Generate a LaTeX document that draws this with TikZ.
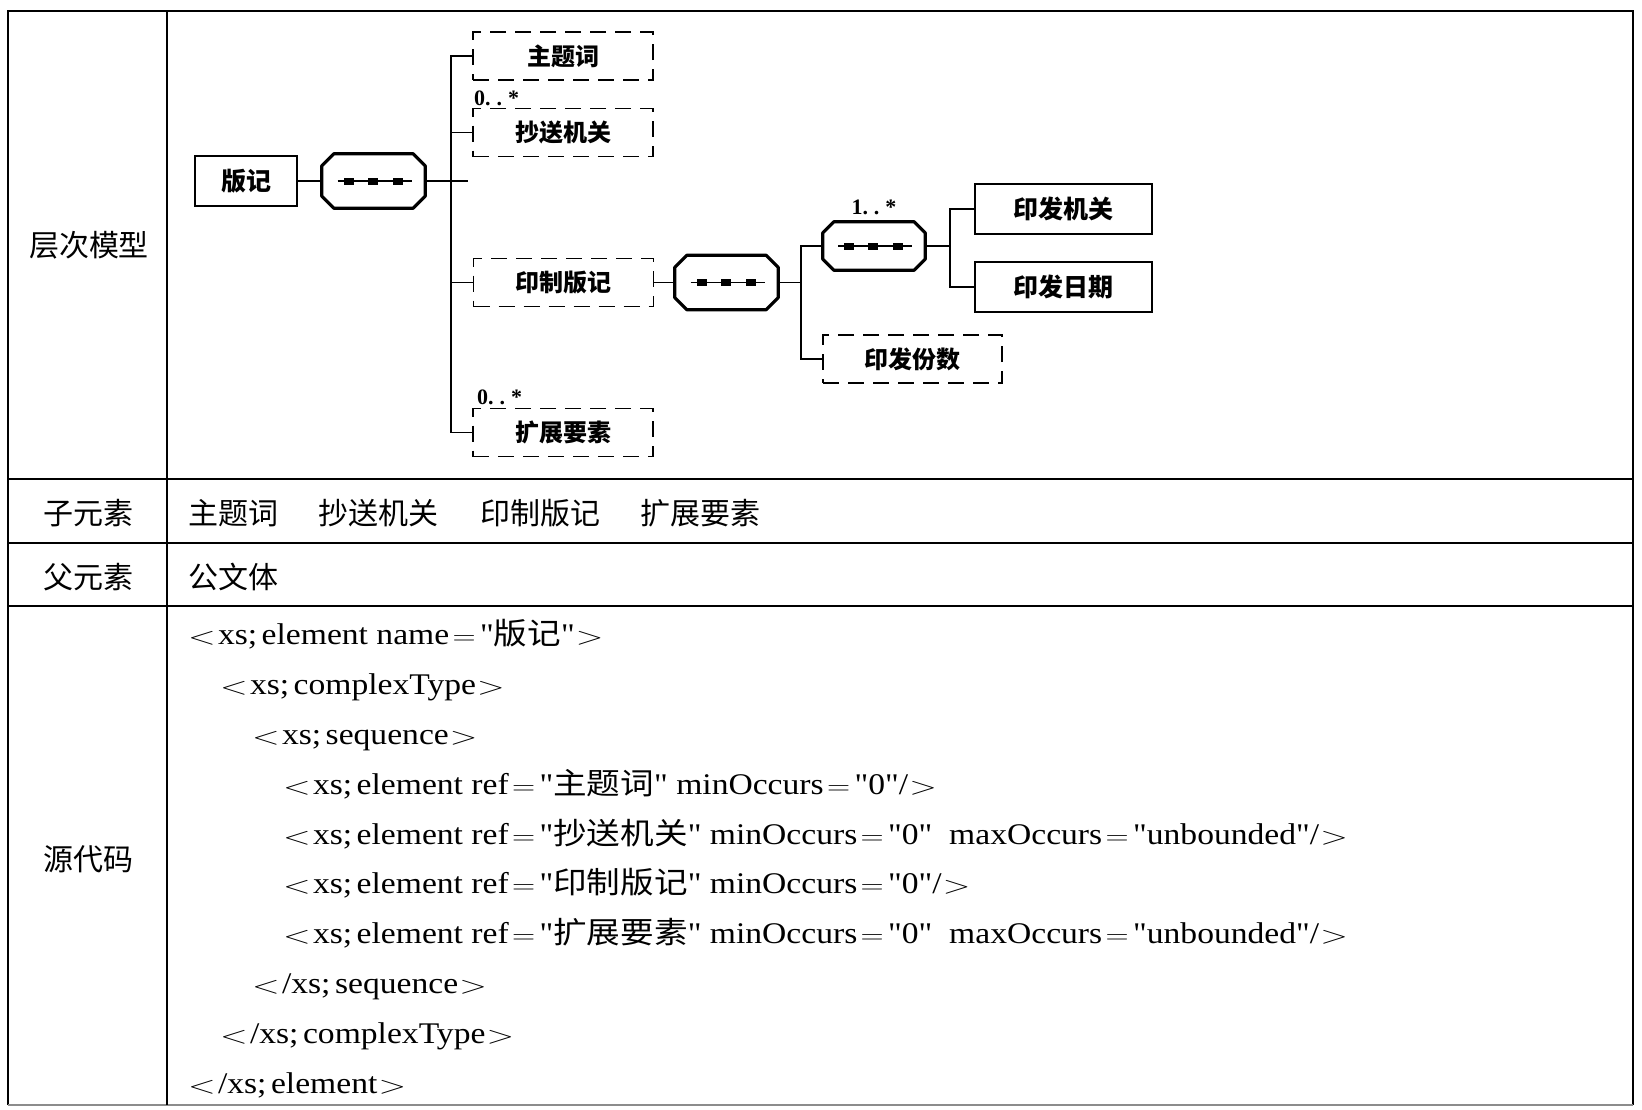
\documentclass[tikz,border=0pt]{standalone}
\usepackage{fontspec}
\usepackage{graphicx}
\setmainfont{Liberation Serif}
\newfontfamily\codefont{Liberation Serif}
\newfontfamily\cjk{Noto Sans CJK SC}
\newcommand\tl{\scalebox{1.3}[1]{$<$}\kern2pt}
\newcommand\tr{\kern1pt\scalebox{1.3}[1]{$>$}}
\newcommand\eqs{\kern3pt\scalebox{1.15}[1]{$=$}\kern4pt}
\newcommand\qq{\char34\relax}
\newcommand\xs{xs;\kern4pt}
\newcommand\cl[1]{\scalebox{1.12}[1]{#1}}
\newcommand\octo[2]{\draw[octline] ([xshift=#2]#1.north west) -- ([xshift=-#2]#1.north east) -- ([yshift=-#2]#1.north east) -- ([yshift=#2]#1.south east) -- ([xshift=-#2]#1.south east) -- ([xshift=#2]#1.south west) -- ([yshift=#2]#1.south west) -- ([yshift=-#2]#1.north west) -- cycle;
  \draw[line width=1.3pt] ([xshift=-36pt]#1.center) -- ([xshift=38pt]#1.center);
  \foreach \dx in {-25,-1,24} {\fill ([xshift=\dx pt]#1.center) +(-5,-3.5) rectangle +(5,3.5);}}
\begin{document}
\begin{tikzpicture}[x=1pt,y=-1pt,
  tabline/.style={line width=1.8pt},
  conn/.style={line width=1.6pt},
  octline/.style={line width=3.2pt, line join=round},
  seqnode/.style={minimum width=103pt, minimum height=54pt, inner sep=0pt, draw=none},
  solidbox/.style={draw, line width=2.8pt, minimum height=50pt, inner sep=0pt, font=\cjk\bfseries\fontsize{25}{27}\selectfont},
  dashbox/.style={draw, line width=1.7pt, dash pattern=on 16pt off 9pt, minimum width=180pt, minimum height=48pt, inner sep=0pt, font=\cjk\bfseries\fontsize{24}{26}\selectfont},
  mult/.style={inner sep=0pt, font=\codefont\fontsize{22}{24}\selectfont\bfseries},
  rowlabel/.style={inner sep=0pt, font=\cjk\fontsize{30}{32}\selectfont},
  celltext/.style={inner sep=0pt, anchor=west, font=\cjk\fontsize{30}{32}\selectfont},
  code/.style={inner sep=0pt, anchor=base west, font=\codefont\fontsize{30}{32}\selectfont}
]
\useasboundingbox[fill=white] (0,0) rectangle (1642,1109);
% table frame
\draw[line width=2.6pt] (8,1105) -- (8,11) -- (1633,11) -- (1633,1105);
\draw[line width=1.2pt, black!45] (8,1105) -- (1633,1105);
\draw[line width=2.6pt] (167,11) -- (167,1105);
\draw[tabline] (8,479) -- (1633,479);
\draw[tabline] (8,543) -- (1633,543);
\draw[tabline] (8,606) -- (1633,606);
% row labels
\node[rowlabel] (l1) at (89,245) {层次模型};
\node[rowlabel] (l2) at (88,513) {子元素};
\node[rowlabel] (l3) at (88,577) {父元素};
\node[rowlabel] (l4) at (88,859) {源代码};
\node[celltext] (c2) at (188,513) {主题词\hspace{40pt}抄送机关\hspace{42pt}印制版记\hspace{40pt}扩展要素};
\node[celltext] (c3) at (188,577) {公文体};
% diagram
\node[solidbox, minimum width=102pt] (bj) at (246,181) {版记};
\node[seqnode] (s1) at (373.5,181) {};
\octo{s1}{12pt}
\node[dashbox] (zt) at (563,56) {主题词};
\node[dashbox] (cs) at (563,132.5) {抄送机关};
\node[dashbox] (yz) at (563.5,282.5) {印制版记};
\node[dashbox] (kz) at (563,432.5) {扩展要素};
\node[mult, anchor=south west] (m1) at (474,106) {0.\kern6pt.\kern6pt*};
\node[mult, anchor=south west] (m2) at (477,405) {0.\kern6pt.\kern6pt*};
\coordinate (b1) at (451,181);
\coordinate (e1) at (468,181);
\draw[conn] (bj.east) -- (s1.west);
\draw[conn] (s1.east) -- (e1);
\draw[conn] (zt.west) -| (b1) |- (kz.west);
\draw[conn] (cs.west) -- (cs.west -| b1);
\draw[conn] (yz.west) -- (yz.west -| b1);
\node[seqnode] (s2) at (726.5,282.5) {};
\octo{s2}{12pt}
\node[seqnode, minimum width=102pt, minimum height=48pt] (s3) at (874,246) {};
\octo{s3}{11pt}
\node[mult, anchor=south] (m3) at (874,215) {1.\kern6pt.\kern6pt*};
\node[dashbox, minimum width=179pt] (fs) at (912.5,359) {印发份数};
\node[solidbox, minimum width=177pt] (jg) at (1063.5,209) {印发机关};
\node[solidbox, minimum width=177pt] (rq) at (1063.5,287) {印发日期};
\coordinate (b2) at (801,282.5);
\coordinate (b3) at (950,246);
\draw[conn] (yz.east) -- (s2.west);
\draw[conn] (s2.east) -- (b2);
\draw[conn] (s3.west) -| (b2) |- (fs.west);
\draw[conn] (s3.east) -- (b3);
\draw[conn] (jg.west) -| (b3) |- (rq.west);
% source code
\node[code] (k1) at (188,644) {\cl{\tl\xs element name\eqs\qq{\cjk 版记}\qq\tr}};
\node[code] (k2) at (220,694) {\cl{\tl\xs complexType\tr}};
\node[code] (k3) at (252,744) {\cl{\tl\xs sequence\tr}};
\node[code] (k4) at (283,794) {\cl{\tl\xs element ref\eqs\qq{\cjk 主题词}\qq\ minOccurs\eqs\qq 0\qq/\tr}};
\node[code] (k5) at (283,844) {\cl{\tl\xs element ref\eqs\qq{\cjk 抄送机关}\qq\ minOccurs\eqs\qq 0\qq\ \ maxOccurs\eqs\qq unbounded\qq/\tr}};
\node[code] (k6) at (283,893) {\cl{\tl\xs element ref\eqs\qq{\cjk 印制版记}\qq\ minOccurs\eqs\qq 0\qq/\tr}};
\node[code] (k7) at (283,943) {\cl{\tl\xs element ref\eqs\qq{\cjk 扩展要素}\qq\ minOccurs\eqs\qq 0\qq\ \ maxOccurs\eqs\qq unbounded\qq/\tr}};
\node[code] (k8) at (252,993) {\cl{\tl/\xs sequence\tr}};
\node[code] (k9) at (220,1043) {\cl{\tl/\xs complexType\tr}};
\node[code] (k10) at (188,1093) {\cl{\tl/\xs element\tr}};
\end{tikzpicture}
\end{document}
